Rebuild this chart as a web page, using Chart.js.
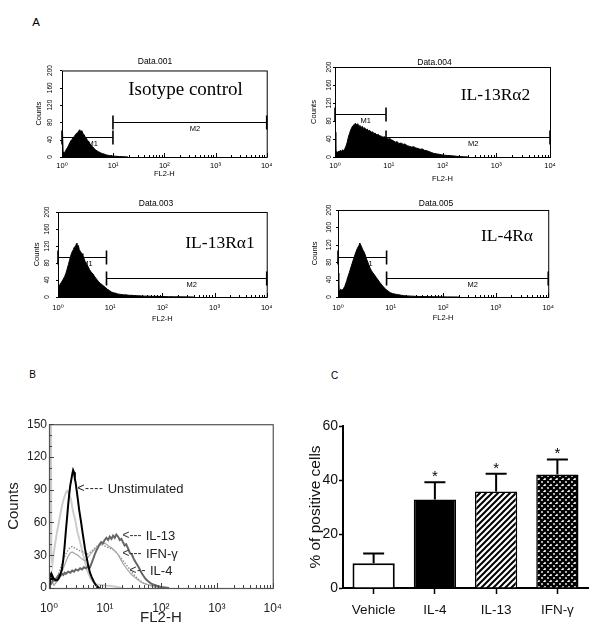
<!DOCTYPE html>
<html><head><meta charset="utf-8">
<script src="https://cdn.jsdelivr.net/npm/chart.js@4.4.1/dist/chart.umd.min.js"></script>
<style>
html,body{margin:0;padding:0;background:#fff}
body{width:600px;height:638px;position:relative;overflow:hidden;font-family:"Liberation Sans","DejaVu Sans",Arial,sans-serif;color:#000}
canvas{position:absolute}
.t{position:absolute;white-space:nowrap;line-height:1}
</style></head><body>
<script>
// ---------- DATA ----------
// Panel A: flow histograms, [FL2-H channel, counts]
const isoHist = [[1,100],[1.04,100],[1.05,12],[1.08,8],[1.12,10],[1.17,14],[1.22,18],[1.28,22],[1.35,27],[1.42,33],[1.5,38],[1.58,41],[1.66,45],[1.75,48],[1.84,52],[1.93,55],[2.02,56],[2.12,60],[2.22,63],[2.32,58],[2.43,61],[2.55,55],[2.68,52],[2.82,47],[2.97,44],[3.13,39],[3.3,36],[3.5,31],[3.72,27],[3.95,24],[4.2,20],[4.5,17],[4.85,14],[5.2,12],[5.6,10],[6.1,8],[6.6,7],[7.2,5],[7.9,4],[8.7,3],[9.6,2.5],[10.6,2],[11.8,1.5],[13.2,1],[15,0.8],[17,0.5],[19.5,0]];
const r2Hist = [[1,55],[1.03,55],[1.04,10],[1.06,12],[1.1,9],[1.15,13],[1.2,11],[1.26,15],[1.32,12],[1.38,16],[1.45,14],[1.52,18],[1.6,24],[1.68,32],[1.77,44],[1.86,52],[1.96,60],[2.06,66],[2.17,70],[2.28,72],[2.4,75],[2.52,71],[2.65,74],[2.79,68],[2.93,70],[3.08,66],[3.24,68],[3.41,63],[3.59,65],[3.78,60],[3.98,62],[4.2,58],[4.45,59],[4.7,55],[5.0,56],[5.3,52],[5.6,53],[6.0,49],[6.4,50],[6.8,47],[7.3,46],[7.8,44],[8.4,45],[9.0,42],[9.7,40],[10.5,41],[11.3,38],[12.2,36],[13.2,33],[14.3,34],[15.5,30],[17,31],[18.5,28],[20,29],[22,25],[24,24],[26.5,22],[29,23],[32,20],[35,19],[38.5,17],[42,18],[46,15],[51,14],[56,12],[62,10],[69,8],[77,7],[86,6],[96,5],[108,4],[122,3.5],[140,3],[160,2.5],[185,1.5],[215,1],[250,0.5],[300,0]];
const r1Hist = [[1,30],[1.05,26],[1.1,30],[1.18,36],[1.26,42],[1.34,48],[1.42,56],[1.5,66],[1.58,76],[1.66,86],[1.74,96],[1.82,103],[1.9,108],[1.98,112],[2.06,118],[2.14,116],[2.22,124],[2.3,127],[2.38,118],[2.46,121],[2.55,112],[2.65,108],[2.78,104],[2.9,102],[3.0,98],[3.15,91],[3.3,84],[3.5,78],[3.75,72],[4.0,65],[4.3,59],[4.7,54],[5.1,47],[5.5,42],[6.0,36],[6.5,32],[7.0,29],[7.6,25],[8.2,22],[8.9,18],[9.7,15],[10.5,12],[11.5,10],[12.7,9],[14,7],[16,6],[18,5],[20,5],[23,4],[26,4],[30,3],[35,3],[40,2.5],[47,2],[55,2],[65,1.5],[80,1.5],[100,1],[130,0.7],[170,0.5],[250,0.3],[400,0]];
const r4Hist = [[1,55],[1.03,55],[1.04,18],[1.08,15],[1.12,18],[1.17,16],[1.22,17],[1.28,20],[1.34,24],[1.4,30],[1.47,38],[1.54,46],[1.62,54],[1.7,62],[1.78,70],[1.87,78],[1.96,86],[2.06,94],[2.16,101],[2.27,108],[2.38,114],[2.5,118],[2.6,124],[2.7,120],[2.8,116],[2.92,110],[3.05,106],[3.2,101],[3.35,94],[3.5,87],[3.7,80],[3.9,72],[4.1,66],[4.35,60],[4.65,55],[5.0,50],[5.4,44],[5.8,39],[6.2,34],[6.7,29],[7.2,24],[7.8,20],[8.4,16],[9.1,13],[9.9,10],[10.8,8],[11.8,7],[13,6],[14.5,5],[16,4],[18,3],[21,2.5],[25,2],[30,1.5],[36,1.2],[45,1],[60,0.6],[80,0.4],[120,0.2],[200,0]];
// Panel A gates: [start, end, level, name]
const isoGates = [[1,9.9,46,'M1'],[9.9,10000,81,'M2']];
const r2Gates = [[1,8.9,95,'M1'],[8.9,10000,44,'M2']];
const r1Gates = [[1,8.5,95,'M1'],[8.5,10000,45,'M2']];
const r4Gates = [[1,8.4,91,'M1'],[8.4,10000,43,'M2']];
// Panel B overlay histograms, [FL2-H, counts]
const unstimulated = [[1,0],[1.03,4],[1.06,14],[1.09,8],[1.13,12],[1.2,9],[1.3,7],[1.4,7],[1.5,9],[1.6,13],[1.7,17],[1.8,26],[1.9,38],[2.0,52],[2.1,64],[2.2,76],[2.3,86],[2.4,94],[2.5,99],[2.6,104],[2.7,108],[2.8,106],[2.9,100],[3.0,96],[3.15,88],[3.3,80],[3.45,72],[3.6,66],[3.8,58],[4.0,50],[4.2,43],[4.4,36],[4.7,28],[5.0,21],[5.4,14],[5.8,10],[6.3,6],[6.8,3],[7.4,1],[8,0]];
const il13 = [[1,2],[1.05,6],[1.1,4],[1.2,7],[1.3,8],[1.4,10],[1.5,12],[1.6,11],[1.7,13],[1.8,12],[1.9,14],[2.0,13],[2.2,15],[2.4,14],[2.6,16],[2.8,15],[3.0,17],[3.3,16],[3.6,18],[3.9,17],[4.2,19],[4.6,18],[5.0,20],[5.4,19],[5.8,23],[6.2,27],[6.6,31],[7.0,34],[7.5,37],[8.0,40],[8.6,42],[9.2,41],[9.9,44],[10.6,46],[11.4,44],[12.2,47],[13.1,45],[14,48],[15,46],[16,49],[17.2,47],[18.4,44],[19.7,45],[21,42],[22.5,39],[24,40],[26,36],[28,32],[30,31],[32.5,27],[35,24],[38,21],[41,18],[45,14],[49,11],[54,8],[60,6],[67,4],[75,3],[85,2],[100,1],[120,0.5],[140,0]];
const ifng = [[1.2,3],[1.35,8],[1.5,14],[1.65,20],[1.8,26],[2.0,31],[2.2,35],[2.4,37],[2.6,38],[2.8,37],[3.0,36],[3.3,35],[3.6,34],[4.0,33],[4.4,32],[4.8,31],[5.3,32],[5.8,34],[6.4,36],[7.0,38],[7.7,39],[8.5,40],[9.4,39],[10.4,38],[11.5,37],[12.7,36],[14,35],[15.5,33],[17,31],[19,28],[21,25],[23.5,22],[26,19],[29,16],[32,13],[36,10],[40,8],[45,6],[50,4],[57,3],[65,2],[75,1],[90,0]];
const il4 = [[1.2,2],[1.4,6],[1.6,12],[1.8,18],[2.0,24],[2.2,29],[2.4,32],[2.6,33],[2.8,32],[3.0,31],[3.3,30],[3.6,28],[4.0,26],[4.4,25],[4.8,27],[5.3,30],[5.9,33],[6.5,35],[7.2,37],[8.0,39],[8.8,40],[9.7,41],[10.7,40],[11.8,38],[13,37],[14.3,35],[15.8,33],[17.4,30],[19.2,26],[21.2,22],[23.4,19],[26,16],[29,13],[32,11],[36,9],[40,7],[45,5],[52,4],[60,3],[70,2],[85,1],[100,0]];
const isotypeB = [[1,160],[1.08,160],[1.1,30],[1.15,22],[1.2,30],[1.3,42],[1.4,52],[1.5,60],[1.6,68],[1.7,75],[1.8,80],[1.9,84],[2.0,87],[2.1,89],[2.2,88],[2.3,85],[2.4,83],[2.5,80],[2.6,74],[2.75,68],[2.9,64],[3.05,58],[3.2,52],[3.4,47],[3.6,42],[3.85,36],[4.1,30],[4.4,24],[4.7,18],[5.1,13],[5.5,9],[6.0,6],[6.6,4],[7.3,3],[8.2,3],[9.3,2.5],[10.5,2],[12,2],[14,1.5],[17,1],[20,0]];
// Panel C
const groups = ['Vehicle','IL-4','IL-13','IFN-γ'];
const meanPct = [9.2, 32.8, 35.7, 42.0];
const semPct = [3.6, 6.4, 6.6, 5.6];
const significant = [false, true, true, true];
// Ticks
const xTickValues = [1,10,100,1000,10000];
const xTickLabels = ['10⁰','10¹','10²','10³','10⁴'];
const aYTicks = [0,40,80,120,160,200];
const bYTicks = [0,30,60,90,120,150];
const cYTicks = [0,20,40,60];

// ---------- HELPERS ----------
const SANS = '"Liberation Sans", "DejaVu Sans", Arial, sans-serif';
const SERIF = '"Liberation Serif", "DejaVu Serif", serif';
Chart.defaults.font.family = SANS;
Chart.defaults.color = '#000';
const logMinor = [];
for (let d = 0; d < 4; d++) for (let m = 2; m <= 9; m++) logMinor.push(m * Math.pow(10, d));
const xAllTicks = xTickValues.concat(logMinor);
const toXY = arr => arr.map(p => ({x: p[0], y: p[1]}));

function place(g) {
  const c = document.createElement('canvas');
  const w = g.yw + (g.R - g.L) + g.pr, h = g.pt + (g.B - g.T) + g.xh;
  c.width = w; c.height = h;
  c.style.left = (g.L - g.yw) + 'px'; c.style.top = (g.T - g.pt) + 'px';
  c.style.width = w + 'px'; c.style.height = h + 'px';
  document.body.appendChild(c);
  return c;
}
function txt(s, x, y, size, o = {}) {
  const d = document.createElement('div'); d.className = 't'; d.textContent = s;
  d.style.fontSize = size + 'px'; d.style.left = x + 'px'; d.style.top = y + 'px';
  d.style.transform = o.left ? 'translate(0,-50%)' : 'translate(-50%,-50%)';
  if (o.serif) d.style.fontFamily = SERIF;
  if (o.color) d.style.color = o.color;
  if (o.ls) d.style.letterSpacing = o.ls + 'px';
  document.body.appendChild(d);
}

const tickPlugin = {
  id: 'tickMarks',
  afterDatasetsDraw(chart, args, o) {
    const ctx = chart.ctx, a = chart.chartArea;
    ctx.save();
    if (o.frame) {
      ctx.strokeStyle = o.frameColor; ctx.lineWidth = o.frameWidth;
      ctx.strokeRect(a.left + 0.5, a.top + 0.5, a.right - a.left, a.bottom - a.top);
    }
    ctx.strokeStyle = o.color; ctx.lineWidth = 1;
    if (o.x) {
      const s = chart.scales.x;
      for (const v of o.x.values) {
        const p = Math.round(s.getPixelForValue(v)) + 0.5;
        const len = o.x.majors.includes(v) ? o.x.len : o.x.minorLen;
        const dir = o.x.dir === 'in' ? -1 : 1;
        ctx.beginPath(); ctx.moveTo(p, a.bottom); ctx.lineTo(p, a.bottom + dir * len); ctx.stroke();
      }
    }
    if (o.y) {
      const s = chart.scales.y;
      for (const v of o.y.values) {
        const p = Math.round(s.getPixelForValue(v)) + 0.5;
        const len = o.y.majors.includes(v) ? o.y.len : o.y.minorLen;
        const dir = o.y.dir === 'in' ? 1 : -1;
        ctx.beginPath(); ctx.moveTo(a.left, p); ctx.lineTo(a.left + dir * len, p); ctx.stroke();
      }
    }
    ctx.restore();
  }
};
const gatePlugin = {
  id: 'gates',
  afterDatasetsDraw(chart, args, o) {
    if (!o.list) return;
    const ctx = chart.ctx, xs = chart.scales.x, ys = chart.scales.y;
    ctx.save(); ctx.strokeStyle = '#000'; ctx.fillStyle = '#000';
    ctx.font = '7.5px ' + SANS; ctx.textAlign = 'left'; ctx.textBaseline = 'middle';
    for (const g of o.list) {
      const p0 = xs.getPixelForValue(g[0]), p1 = xs.getPixelForValue(g[1]);
      const py = Math.round(ys.getPixelForValue(g[2])) + 0.5;
      ctx.lineWidth = 1;
      ctx.beginPath(); ctx.moveTo(p0, py); ctx.lineTo(p1, py); ctx.stroke();
      ctx.lineWidth = 1.6;
      for (const p of [p0, p1]) { ctx.beginPath(); ctx.moveTo(p, py - 7); ctx.lineTo(p, py + 7); ctx.stroke(); }
      ctx.fillText(g[3], (p0 + p1) / 2, py + 6.5);
    }
    ctx.restore();
  }
};
const errPlugin = {
  id: 'errBars',
  afterDatasetsDraw(chart) {
    const ctx = chart.ctx, ys = chart.scales.y, meta = chart.getDatasetMeta(0);
    ctx.save(); ctx.strokeStyle = '#000'; ctx.fillStyle = '#000'; ctx.lineWidth = 2;
    ctx.font = '15px ' + SANS; ctx.textAlign = 'center'; ctx.textBaseline = 'alphabetic';
    meta.data.forEach((bar, i) => {
      const x = bar.x, y0 = ys.getPixelForValue(meanPct[i]), y1 = ys.getPixelForValue(meanPct[i] + semPct[i]);
      ctx.beginPath(); ctx.moveTo(x, y0); ctx.lineTo(x, y1); ctx.moveTo(x - 10.5, y1); ctx.lineTo(x + 10.5, y1); ctx.stroke();
      if (significant[i]) ctx.fillText('*', x, y1 - 1);
    });
    ctx.restore();
  }
};

// ---------- PANEL A ----------
const meas = document.createElement('canvas').getContext('2d');
meas.font = '6.5px ' + SANS;
const widY = meas.measureText('200').width;
function histA(g, hist, gates) {
  const yw = Math.round(g.yTitle + 4.5), xh = Math.round(g.xTitle + 4.5), pt = 6, pr = 10;
  const c = place({L: g.L, R: g.R, T: g.T, B: g.B, yw, xh, pt, pr});
  new Chart(c, {
    type: 'line',
    data: {datasets: [{data: toXY(hist), borderColor: '#000', backgroundColor: '#000', borderWidth: 1, pointRadius: 0, fill: 'origin', tension: 0}]},
    options: {
      responsive: false, animation: false, events: [],
      layout: {padding: {top: pt, right: pr, left: 0, bottom: 0}},
      plugins: {legend: {display: false}, tooltip: {enabled: false},
        tickMarks: {frame: true, frameColor: '#000', frameWidth: 1, color: '#000',
          x: {values: xAllTicks, majors: xTickValues, len: 4, minorLen: 2, dir: 'in'},
          y: {values: aYTicks, majors: aYTicks, len: 2, minorLen: 2, dir: 'out'}},
        gates: {list: gates}},
      scales: {
        x: {type: 'logarithmic', min: 1, max: 10000,
          afterBuildTicks: s => { s.ticks = xTickValues.map(v => ({value: v})); },
          afterFit: s => { s.height = xh; },
          grid: {display: false, drawTicks: false}, border: {display: false},
          ticks: {autoSkip: false, maxRotation: 0, minRotation: 0, font: {size: 7.5}, padding: g.xLab - 4.5, callback: (v, i) => xTickLabels[i]},
          title: {display: true, text: 'FL2-H', font: {size: 7.5}, padding: {top: 0, bottom: (g.xTitle + 4.5) - xh}}},
        y: {min: 0, max: 200,
          afterBuildTicks: s => { s.ticks = aYTicks.map(v => ({value: v})); },
          afterFit: s => { s.width = yw; },
          grid: {display: false, drawTicks: false}, border: {display: false},
          ticks: {minRotation: 90, maxRotation: 90, crossAlign: 'center', font: {size: 6.5}, padding: g.yLab - widY / 2, callback: (v, i) => String(aYTicks[i])},
          title: {display: true, text: 'Counts', font: {size: 7.5}, padding: {top: (g.yTitle + 4.5) - yw, bottom: 0}}}
      }
    },
    plugins: [tickPlugin, gatePlugin]
  });
}
histA({L: 62, R: 267, T: 66, B: 157, yLab: 12, yTitle: 22, xLab: 9, xTitle: 16.5}, isoHist, isoGates);
histA({L: 335, R: 550, T: 67, B: 157, yLab: 6, yTitle: 20, xLab: 8.5, xTitle: 21}, r2Hist, r2Gates);
histA({L: 58, R: 269, T: 209, B: 297, yLab: 10.5, yTitle: 21.5, xLab: 11, xTitle: 21}, r1Hist, r1Gates);
histA({L: 338, R: 550, T: 209, B: 297, yLab: 8.5, yTitle: 22, xLab: 10.5, xTitle: 20}, r4Hist, r4Gates);

// ---------- PANEL B ----------
(function () {
  const g = {L: 49, R: 283, T: 423, B: 588, yw: 49, xh: 40, pt: 8, pr: 12};
  const c = place(g);
  const bMinorY = [];
  for (let v = 10; v < 150; v += 10) if (!bYTicks.includes(v)) bMinorY.push(v);
  const line = (data, color, w, dash) => ({data: toXY(data), borderColor: color, borderWidth: w, borderDash: dash || [], pointRadius: 0, fill: false, tension: 0});
  new Chart(c, {
    type: 'line',
    data: {datasets: [
      line(unstimulated, '#000', 2),
      line(il13, '#666', 2),
      line(il4, '#a6a6a6', 1.2),
      line(ifng, '#8a8a8a', 1.3, [1.5, 1.5]),
      line(isotypeB, '#cdcdcd', 2)
    ]},
    options: {
      responsive: false, animation: false, events: [],
      layout: {padding: {top: g.pt, right: g.pr, left: 0, bottom: 0}},
      plugins: {legend: {display: false}, tooltip: {enabled: false},
        tickMarks: {frame: true, frameColor: '#555', frameWidth: 1.2, color: '#444',
          x: {values: xAllTicks, majors: xTickValues, len: 5, minorLen: 3, dir: 'in'},
          y: {values: bYTicks.concat(bMinorY), majors: bYTicks, len: 5, minorLen: 3, dir: 'in'}}},
      scales: {
        x: {type: 'logarithmic', min: 1, max: 10000,
          afterBuildTicks: s => { s.ticks = xTickValues.map(v => ({value: v})); },
          afterFit: s => { s.height = g.xh; },
          grid: {display: false, drawTicks: false}, border: {display: false},
          ticks: {autoSkip: false, maxRotation: 0, minRotation: 0, font: {size: 12}, color: '#222', padding: 13, callback: (v, i) => xTickLabels[i]},
          title: {display: true, text: 'FL2-H', font: {size: 15}, color: '#222', padding: {top: 0, bottom: 1}}},
        y: {min: 0, max: 150,
          afterBuildTicks: s => { s.ticks = bYTicks.map(v => ({value: v})); },
          afterFit: s => { s.width = g.yw; },
          grid: {display: false, drawTicks: false}, border: {display: false},
          ticks: {font: {size: 12}, color: '#222', padding: 2, callback: (v, i) => String(bYTicks[i])},
          title: {display: true, text: 'Counts', font: {size: 15}, color: '#222', padding: {top: 5, bottom: 0}}}
      }
    },
    plugins: [tickPlugin]
  });
})();

// ---------- PANEL C ----------
(function () {
  const g = {L: 343, R: 588, T: 426, B: 588, yw: 38, xh: 36, pt: 10, pr: 5};
  const c = place(g);
  const mk = (draw) => { const p = document.createElement('canvas'); p.width = 6; p.height = 6; const x = p.getContext('2d'); draw(x); return c.getContext('2d').createPattern(p, 'repeat'); };
  const stripes = mk(x => {
    x.fillStyle = '#fff'; x.fillRect(0, 0, 6, 6);
    x.strokeStyle = '#000'; x.lineWidth = 2;
    x.beginPath(); x.moveTo(-1, 7); x.lineTo(7, -1); x.moveTo(-4, 4); x.lineTo(4, -4); x.moveTo(2, 10); x.lineTo(10, 2); x.stroke();
  });
  const cross = mk(x => {
    x.fillStyle = '#fff'; x.fillRect(0, 0, 6, 6);
    x.strokeStyle = '#000'; x.lineWidth = 2.6;
    x.beginPath();
    x.moveTo(-1, 7); x.lineTo(7, -1); x.moveTo(-4, 4); x.lineTo(4, -4); x.moveTo(2, 10); x.lineTo(10, 2);
    x.moveTo(-1, -1); x.lineTo(7, 7); x.moveTo(-4, 2); x.lineTo(4, 10); x.moveTo(2, -4); x.lineTo(10, 4);
    x.stroke();
  });
  new Chart(c, {
    type: 'bar',
    data: {labels: groups, datasets: [{data: meanPct, backgroundColor: ['#fff', '#000', stripes, cross], borderColor: '#000', borderWidth: [2, 1.5, 1.5, 1.5], borderSkipped: 'bottom', barPercentage: 0.69, categoryPercentage: 1}]},
    options: {
      responsive: false, animation: false, events: [],
      layout: {padding: {top: g.pt, right: g.pr, left: 0, bottom: 0}},
      plugins: {legend: {display: false}, tooltip: {enabled: false}},
      scales: {
        x: {afterFit: s => { s.height = g.xh; },
          grid: {display: true, offset: false, drawOnChartArea: false, drawTicks: true, tickLength: 6, tickWidth: 1.5, tickColor: '#000'},
          border: {display: true, width: 2, color: '#000'},
          ticks: {font: {size: 13.5}, color: '#111', padding: 8}},
        y: {min: 0, max: 60,
          afterBuildTicks: s => { s.ticks = cYTicks.map(v => ({value: v})); },
          afterFit: s => { s.width = g.yw; },
          grid: {display: true, drawOnChartArea: false, drawTicks: true, tickLength: 4, tickWidth: 1.5, tickColor: '#000'},
          border: {display: true, width: 2, color: '#000'},
          ticks: {font: {size: 14}, color: '#111', padding: 1, callback: (v, i) => String(cYTicks[i])},
          title: {display: true, text: '% of positive cells', font: {size: 15.5}, color: '#111', padding: {top: 1, bottom: 0}}}
      }
    },
    plugins: [errPlugin]
  });
})();

// ---------- TEXT ----------
txt('A', 36, 22.5, 11.5);
txt('B', 32.5, 375, 10);
txt('C', 334.5, 375.5, 10);
txt('Data.001', 155, 61, 8.5);
txt('Data.004', 434.5, 62, 8.5);
txt('Data.003', 156, 203.3, 8.5);
txt('Data.005', 436, 203.3, 8.5);
txt('Isotype control', 185.5, 88, 19, {serif: true});
txt('IL-13Rα2', 495.5, 94.7, 17.5, {serif: true});
txt('IL-13Rα1', 220, 242.5, 17.5, {serif: true});
txt('IL-4Rα', 507, 235.8, 17.5, {serif: true});
txt('<----', 77.5, 488, 12, {left: true, color: '#222', ls: 0.6});
txt('Unstimulated', 107.7, 488, 13, {left: true, color: '#222'});
txt('<---', 122.5, 534.5, 12, {left: true, color: '#333'});
txt('IL-13', 145.7, 535, 13, {left: true, color: '#222'});
txt('<---', 122.5, 553, 12, {left: true, color: '#333'});
txt('IFN-γ', 146, 553, 13, {left: true, color: '#222'});
txt('<--', 129.5, 569.5, 12, {left: true, color: '#333', ls: 0.5});
txt('IL-4', 150, 569.5, 13, {left: true, color: '#222'});
</script>
</body></html>
